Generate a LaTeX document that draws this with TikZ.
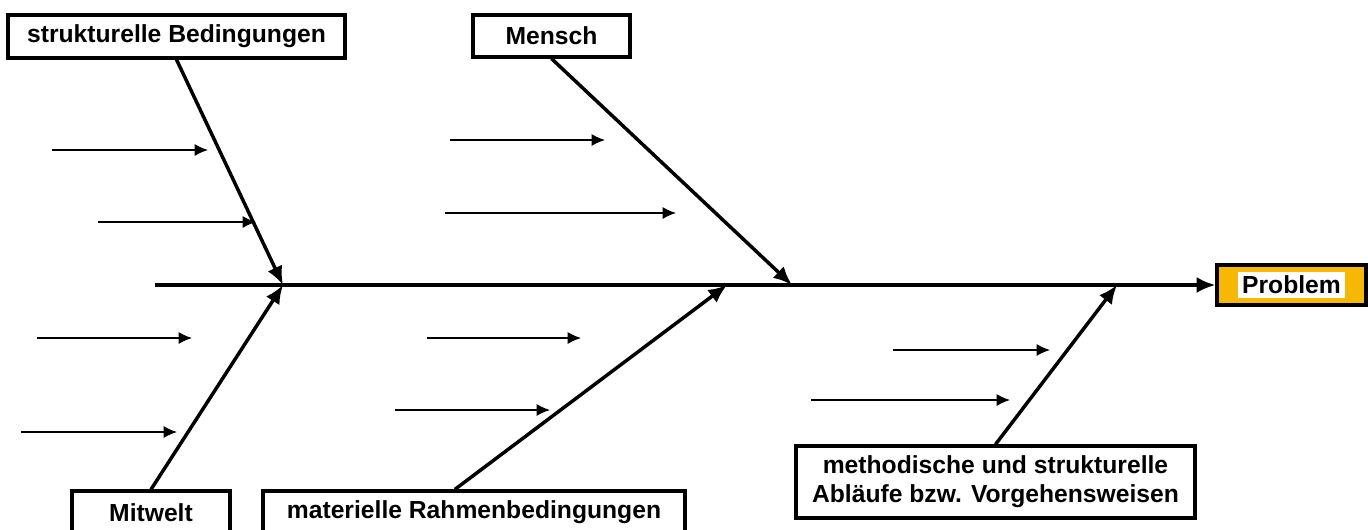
\documentclass[tikz,border=0pt]{standalone}
\usepackage{fontspec}
\setmainfont{Liberation Sans}
\usetikzlibrary{arrows.meta,calc}
\definecolor{probfill}{RGB}{246,183,5}
\tikzset{
  >={Latex[length=14pt,width=12pt]},
  ursache/.style={
    rectangle,
    draw=black, line width=2.4pt,
    font=\fontsize{18.5}{22}\selectfont\bfseries,
    align=center,
    inner sep=0pt},
  problembox/.style={
    ursache,
    fill=probfill},
  ast/.style={draw, line width=2.6pt, ->},
  zweig/.style={draw, line width=1pt, -{Latex[length=10pt,width=9pt]}},
}

\begin{document}
\begin{tikzpicture}[x=0.75pt,y=-0.75pt]
  \useasboundingbox (0,0) rectangle (1368,529);
  % Kopf und Gräte
  \node[problembox, minimum width=149*0.75pt, minimum height=40*0.75pt]
    (problem) at (1291.5,285) {\colorbox{white}{Problem}};
  \coordinate (start) at (155,285);
  \draw[ast] (start) -- (problem.west);
  % Ursachen
  \node[ursache, minimum width=337*0.75pt, minimum height=43*0.75pt]
    (struktur) at (176.5,36.5) {strukturelle Bedingungen};
  \node[ursache, minimum width=157*0.75pt, minimum height=42*0.75pt]
    (mensch) at (551.5,36) {Mensch};
  \node[ursache, minimum width=158*0.75pt, minimum height=43*0.75pt]
    (mitwelt) at (151,512.5) {Mitwelt};
  \node[ursache, minimum width=422*0.75pt, minimum height=43*0.75pt]
    (material) at (474,512.5) {materielle Rahmenbedingungen};
  \node[ursache, minimum width=399*0.75pt, minimum height=72*0.75pt]
    (methode) at (995.5,482) {methodische und strukturelle\\Abläufe bzw. Vorgehensweisen};
  % Einmündungen in die Gräte
  \coordinate (m1) at (283,285);
  \coordinate (m2) at (792,285);
  \coordinate (m3) at (727,285);
  \coordinate (m4) at (1117,285);
  \draw[ast] (struktur.south) -- (m1);
  \draw[ast] (mensch.south) -- (m2);
  \draw[ast] (mitwelt.north) -- (m1);
  \draw[ast] ($(material.north west)!0.455!(material.north east)$) -- (m3);
  \draw[ast] (methode.north) -- (m4);
  % Nebenursachen
  \foreach \xa/\xb/\y in {52/208/150, 98/256/222, 450/605/140, 445/676/213,
      37/192/338, 21/177/432, 427/581/338, 395/550/410,
      893/1050/350, 811/1010/400}
    \draw[zweig] (\xa,\y) -- (\xb,\y);
\end{tikzpicture}
\end{document}
